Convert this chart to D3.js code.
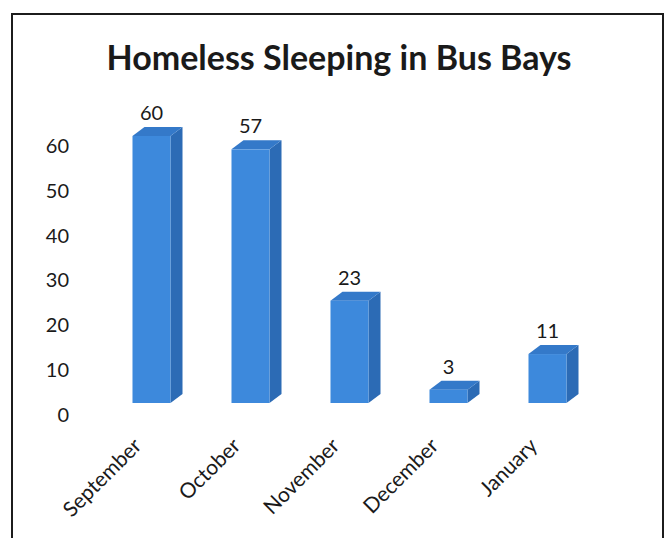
<!DOCTYPE html>
<html>
<head>
<meta charset="utf-8">
<script src="https://cdn.jsdelivr.net/npm/d3@7/dist/d3.min.js"></script>
<style>
  html, body { margin: 0; padding: 0; background: #fff; }
  svg { display: block; }
  text { font-family: Lato, "Open Sans", "Liberation Sans", sans-serif; fill: #1a1a1a; }
</style>
</head>
<body>
<svg id="chart" width="666" height="538"></svg>
<script>
// Monthly counts
const months = ["September", "October", "November", "December", "January"];
const counts = [60, 57, 23, 3, 11];
const tickValues = [0, 10, 20, 30, 40, 50, 60];
const chartTitle = "Homeless Sleeping in Bus Bays";

const svg = d3.select("#chart");
const W = 666, H = 538;

// Outer frame of the chart object
svg.append("rect")
  .attr("x", 12).attr("y", 14)
  .attr("width", 651).attr("height", H + 10)
  .attr("fill", "#fff")
  .attr("stroke", "#1c1c1c")
  .attr("stroke-width", 2);

// Title
svg.append("text")
  .attr("x", 339).attr("y", 70)
  .attr("text-anchor", "middle")
  .style("font-size", "34px")
  .style("font-weight", "bold")
  .text(chartTitle);

// Scales
const x = d3.scaleBand().domain(months).range([102, 597]).paddingInner(0.616).paddingOuter(0.308);
const yBar = d3.scaleLinear().domain([0, 60]).range([403, 136]);   // front face of the bars
const yWall = d3.scaleLinear().domain([0, 60]).range([415, 146]);  // value axis on the back wall
const depthX = 12, depthY = 9;

// Value axis (labels only, no line)
const yAxis = d3.axisLeft(yWall).tickValues(tickValues).tickSize(0).tickPadding(0);
const gy = svg.append("g").attr("transform", "translate(69,0)").call(yAxis);
gy.select(".domain").remove();
gy.selectAll("text")
  .style("font-size", "20px")
  .style("font-family", "Lato, 'Open Sans', sans-serif")
  .attr("fill", "#1a1a1a");

// 3D bars
const data = months.map((m, i) => ({ m, v: counts[i] }));
const bars = svg.append("g").selectAll("g").data(data).join("g");

// side face
bars.append("path")
  .attr("fill", "#2c6bb5")
  .attr("d", d => {
    const x1 = x(d.m) + x.bandwidth(), yt = yBar(d.v), yb = yBar(0);
    return `M${x1},${yt} L${x1 + depthX},${yt - depthY} L${x1 + depthX},${yb - depthY} L${x1},${yb} Z`;
  });
// top face
bars.append("path")
  .attr("fill", "#3479c9")
  .attr("d", d => {
    const x0 = x(d.m), x1 = x0 + x.bandwidth(), yt = yBar(d.v);
    return `M${x0},${yt} L${x0 + depthX},${yt - depthY} L${x1 + depthX},${yt - depthY} L${x1},${yt} Z`;
  });
// front face
bars.append("rect")
  .attr("fill", "#3d89dc")
  .attr("x", d => x(d.m))
  .attr("y", d => yBar(d.v))
  .attr("width", x.bandwidth())
  .attr("height", d => yBar(0) - yBar(d.v));

// Data labels
bars.append("text")
  .attr("x", d => x(d.m) + x.bandwidth() / 2)
  .attr("y", d => yBar(d.v) - depthY - 7)
  .attr("text-anchor", "middle")
  .style("font-size", "20px")
  .text(d => d.v);

// Category axis labels, rotated
const xAxis = d3.axisBottom(x).tickSize(0).tickPadding(0);
const gx = svg.append("g").attr("transform", "translate(0,430)").call(xAxis);
gx.select(".domain").remove();
gx.selectAll("text")
  .style("font-size", "21px")
  .style("font-family", "Lato, 'Open Sans', sans-serif")
  .attr("fill", "#1a1a1a")
  .attr("text-anchor", "end")
  .attr("dy", "0.35em")
  .attr("transform", "translate(-14,12) rotate(-45)");
</script>
</body>
</html>
